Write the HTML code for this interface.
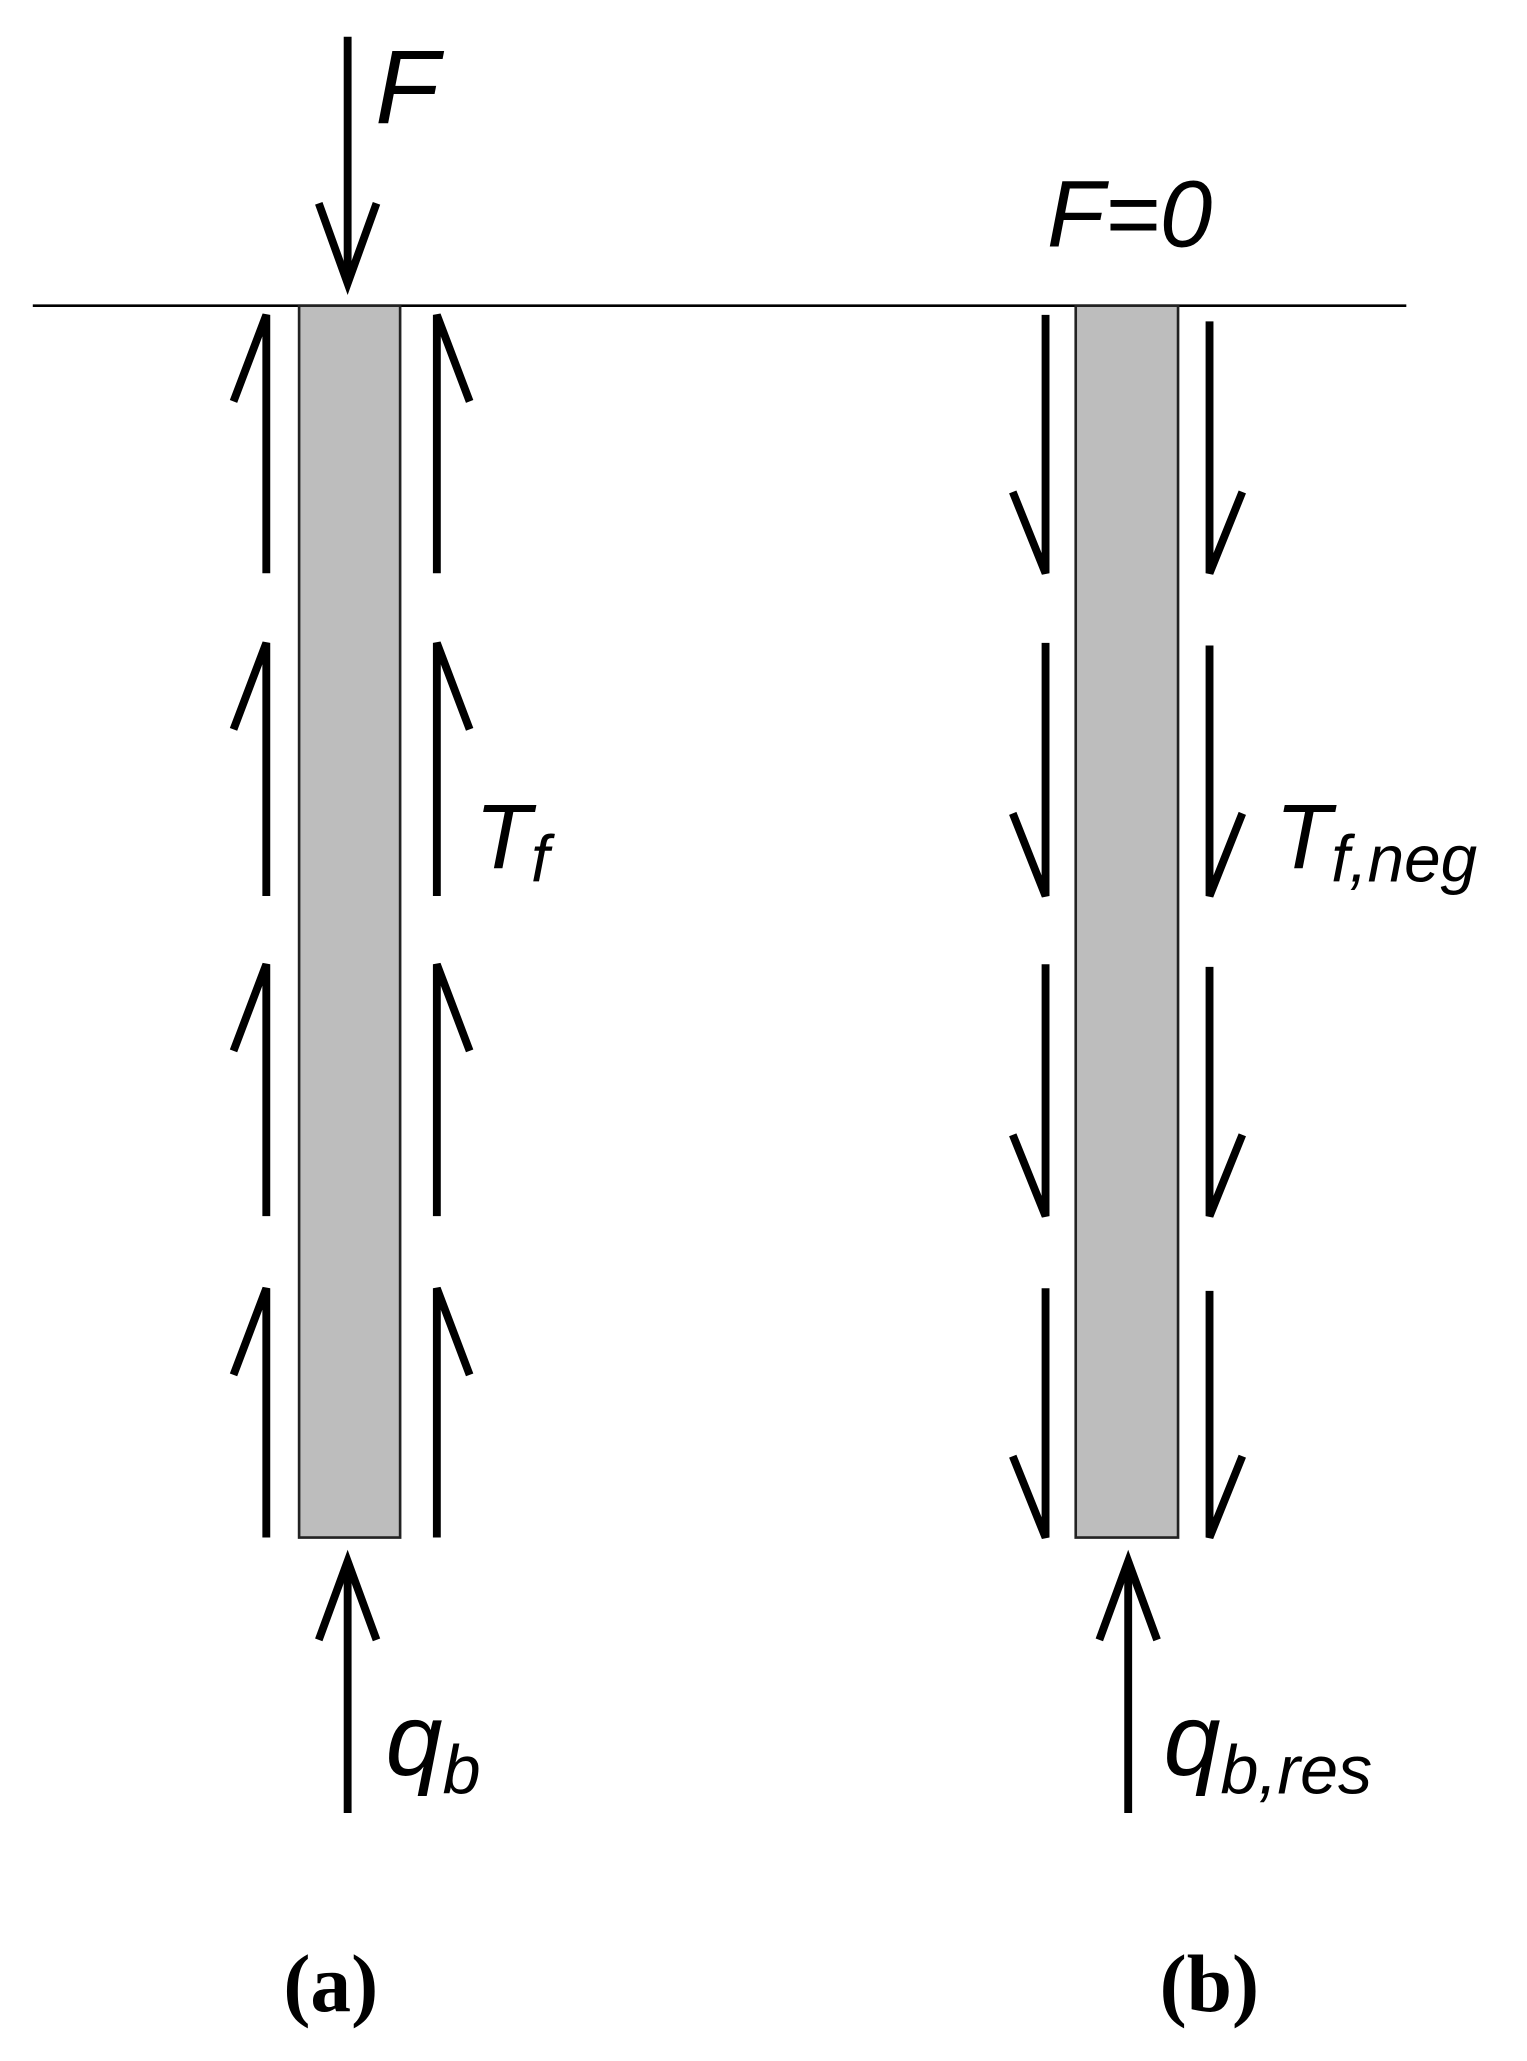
<!DOCTYPE html>
<html><head><style>html,body{margin:0;padding:0;background:#fff}svg{display:block}</style></head>
<body>
<svg width="1527" height="2061" viewBox="0 0 1164 1571" preserveAspectRatio="none" xmlns="http://www.w3.org/2000/svg">
<g font-family="Liberation Sans, sans-serif" font-style="italic" fill="#000">
<text x="286" y="94" font-size="80">F</text>
<text x="798" y="188" font-size="72">F=0</text>
<text x="362" y="662" font-size="70">T<tspan font-size="50" dy="10">f</tspan></text>
<text x="972" y="662" font-size="70">T<tspan font-size="50" dy="10">f,neg</tspan></text>
<text x="294" y="1353" font-size="78">q<tspan font-size="52" dy="14">b</tspan></text>
<text x="887" y="1353" font-size="78">q<tspan font-size="52" dy="14">b,res</tspan></text>
</g>
<g font-family="Liberation Serif, serif" font-size="62" fill="#000" font-weight="bold">
<text x="216" y="1533">(a)</text>
<text x="884" y="1533">(b)</text>
</g>
<line x1="25" y1="233" x2="1072" y2="233" stroke="#000" stroke-width="2"/>
<rect x="228" y="233" width="77" height="939" fill="#bdbdbd" stroke="#222" stroke-width="2"/>
<rect x="820" y="233" width="78" height="939" fill="#bdbdbd" stroke="#222" stroke-width="2"/>
<g stroke="#000" stroke-width="6" fill="none" stroke-linejoin="miter">
<line x1="265" y1="28" x2="265" y2="216"/>
<polyline points="243,155 265,216 287,155"/>
<line x1="265" y1="1382" x2="265" y2="1190"/>
<polyline points="243,1250 265,1190 287,1250"/>
<line x1="860" y1="1382" x2="860" y2="1190"/>
<polyline points="838,1250 860,1190 882,1250"/>
<polyline points="178,306 203,240 203,437"/>
<polyline points="178,556 203,490 203,683"/>
<polyline points="178,801 203,735 203,927"/>
<polyline points="178,1048 203,982 203,1172"/>
<polyline points="358,306 333,240 333,437"/>
<polyline points="358,556 333,490 333,683"/>
<polyline points="358,801 333,735 333,927"/>
<polyline points="358,1048 333,982 333,1172"/>
<polyline points="772,375 797,437 797,240"/>
<polyline points="772,620 797,683 797,490"/>
<polyline points="772,865 797,927 797,735"/>
<polyline points="772,1110 797,1172 797,982"/>
<polyline points="947,375 922,437 922,245"/>
<polyline points="947,620 922,683 922,492"/>
<polyline points="947,865 922,927 922,737"/>
<polyline points="947,1110 922,1172 922,984"/>
</g>
</svg>
</body></html>
